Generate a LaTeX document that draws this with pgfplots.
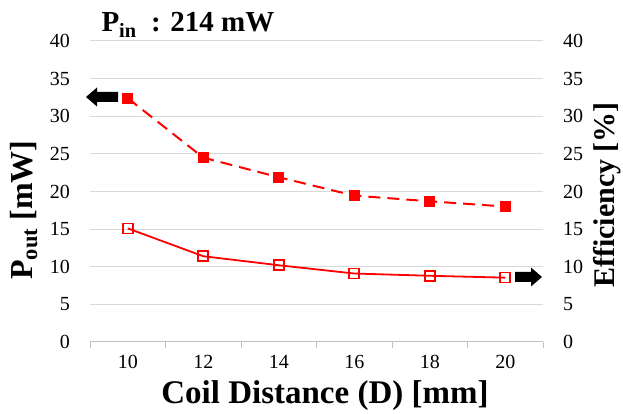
\documentclass[border=0pt]{standalone}
\usepackage{pgfplots}
\pgfplotsset{compat=1.18}
\usepackage{fontspec}
\setmainfont{Liberation Serif}[BoldFont={Liberation Serif Bold}]
\definecolor{gridgray}{RGB}{217,217,217}
\definecolor{axgray}{RGB}{191,191,191}
\begin{document}
\begin{tikzpicture}[x=1pt,y=1pt]
\useasboundingbox (-90,-72) rectangle (533,342);
% primary axis: P_out
\begin{axis}[
  at={(0,0)}, anchor=south west,
  scale only axis, width=453pt, height=301pt,
  xmin=-0.5, xmax=5.5, ymin=0, ymax=40,
  axis x line*=bottom, axis y line*=left,
  y axis line style={draw=none},
  x axis line style={draw=axgray, line width=1pt, -},
  xtick={0,...,5}, xticklabels={10,12,14,16,18,20},
  minor xtick={-0.5,0.5,...,5.5},
  minor x tick style={draw=axgray, line width=1pt},
  major tick length=0pt, minor tick length=6pt, tick align=outside,
  ytick={0,5,...,40},
  ymajorgrids, grid style={gridgray, line width=1pt},
  tick label style={font=\rmfamily\fontsize{20}{24}\selectfont},
  /pgf/number format/assume math mode=true,
  yticklabel style={inner sep=0pt, xshift=-20pt},
  xticklabel style={inner sep=0pt, yshift=-13pt},
]
\addplot[red, line width=2pt, dash pattern=on 12pt off 7pt,
  mark=square*, mark size=4.5pt, mark options={solid, fill=red}]
  coordinates {(0,32.4) (1,24.5) (2,21.9) (3,19.45) (4,18.7) (5,18.0)};
\end{axis}
% secondary axis: efficiency
\begin{axis}[
  at={(0,0)}, anchor=south west,
  scale only axis, width=453pt, height=301pt,
  xmin=-0.5, xmax=5.5, ymin=0, ymax=40,
  axis x line=none, axis y line*=right,
  y axis line style={draw=none},
  ytick={0,5,...,40}, major tick length=0pt,
  tick label style={font=\rmfamily\fontsize{20}{24}\selectfont},
  /pgf/number format/assume math mode=true,
  yticklabel style={anchor=west, inner sep=0pt, xshift=20pt},
]
\addplot[red, line width=1.8pt,
  mark=square, mark size=5pt, mark options={fill=white, line width=1.6pt}]
  coordinates {(0,15.1) (1,11.4) (2,10.2) (3,9.1) (4,8.8) (5,8.55)};
\end{axis}
% arrows pointing to the axes
\fill (-4,245) -- (7,254.5) -- (7,250) -- (28,250) -- (28,240) -- (7,240) -- (7,235.5) -- cycle;
\fill (452,65) -- (441,74.5) -- (441,70) -- (425,70) -- (425,60) -- (441,60) -- (441,55.5) -- cycle;
% labels
\node[anchor=base west, font=\rmfamily\bfseries\fontsize{29}{34}\selectfont] at (8,310) {P\textsubscript{in}\ \ : 214 mW};
\node[anchor=base, font=\rmfamily\bfseries\fontsize{33}{38}\selectfont] at (235,-62) {Coil Distance (D) [mm]};
\node[anchor=base, rotate=90, font=\rmfamily\bfseries\fontsize{32}{38}\selectfont] at (-57,132) {P\textsubscript{out} [mW]};
\node[anchor=base, rotate=90, font=\rmfamily\bfseries\fontsize{30}{36}\selectfont] at (524,147) {Efficiency [\%]};
\end{tikzpicture}
\end{document}
